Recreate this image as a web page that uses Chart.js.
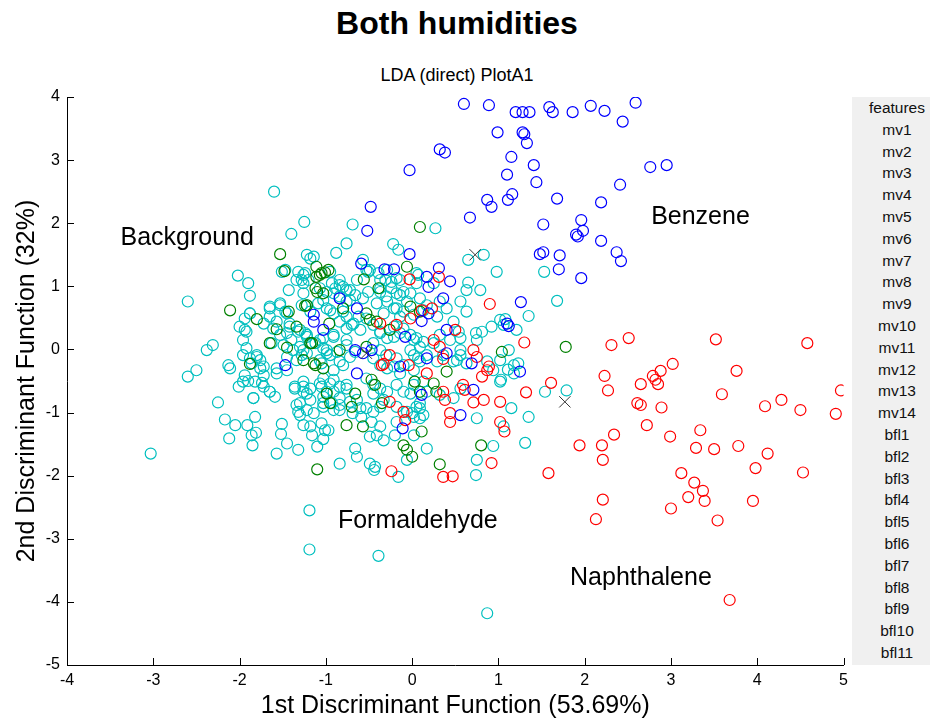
<!DOCTYPE html>
<html>
<head>
<meta charset="utf-8">
<title>Both humidities</title>
<script src="https://cdn.jsdelivr.net/npm/chart.js@4.4.0/dist/chart.umd.min.js"></script>
<style>
  body { margin: 0; width: 930px; height: 721px; overflow: hidden; background: #fff; font-family: "Liberation Sans", Arial, sans-serif; }
  #titulo { position: absolute; left: 0; top: 5px; width: 914px; text-align: center; font-weight: bold; font-size: 32px; color: #000; }
  #subtitulo { position: absolute; left: 0; top: 65px; width: 914px; text-align: center; font-size: 18px; color: #000; }
  #zona { position: absolute; left: 0; top: 0; width: 854px; height: 721px; }
  #lista { position: absolute; left: 852px; top: 97px; width: 90px; height: 568px; overflow: hidden; background: #f0f0f0; }
  #lista div { height: 21.8px; line-height: 21.8px; text-align: center; font-size: 15.5px; color: #111; }
</style>
</head>
<body>
<div id="titulo">Both humidities</div>
<div id="subtitulo">LDA (direct) PlotA1</div>
<div id="zona"><canvas id="grafico" width="854" height="721"></canvas></div>
<div id="lista"></div>
<script>
// Puntos de la proyeccion LDA por clase (x = 1a funcion, y = 2a funcion)
const benzenoX = [0.60, 0.89, 1.20, 1.28, 1.36, 1.59, 1.63, 1.86, 2.07, 2.23, 2.59, 2.44, 0.99, 1.28, 1.30, 1.33, 0.32, 0.38, 1.15, 1.41,
  2.76, 2.95, -0.03, 1.10, 1.44, 2.41, -0.48, 0.87, 0.92, 1.16, 1.11, 1.68, 2.19, 0.67, 1.52, 1.96, 1.98, 1.90, 1.92, 2.19,
  -0.52, -0.03, 1.48, 1.52, 1.71, 2.37, 2.42, 1.70, 1.96, -0.59, -0.32, -0.21, 0.31, 0.17, 0.44, 0.19, 0.36, -0.84, -1.14, -1.14,
  -1.03, -0.64, 0.19, 0.40, 1.10, -0.08, -0.66, -0.57, -0.14, 0.40, 0.17, 0.69, -0.64, 1.26, -1.47, 0.11, 0.56, -0.11, 0.71, 1.12,
  1.25, 0.11, -0.47];
const benzenoY = [3.89, 3.87, 3.76, 3.76, 3.76, 3.84, 3.76, 3.76, 3.86, 3.78, 3.91, 3.61, 3.44, 3.44, 3.41, 3.27, 3.17, 3.12, 3.05, 2.92,
  2.89, 2.92, 2.84, 2.77, 2.65, 2.61, 2.26, 2.37, 2.26, 2.46, 2.37, 2.39, 2.33, 2.09, 1.98, 2.05, 1.88, 1.82, 1.79, 1.72,
  1.88, 1.51, 1.51, 1.54, 1.49, 1.54, 1.40, 1.27, 1.13, 1.36, 1.27, 1.27, 1.29, 1.15, 1.08, 0.99, 0.81, 0.81, 0.55, 0.44,
  0.31, 0.65, 0.57, 0.31, 0.41, 0.20, -0.01, -0.06, -0.27, -0.06, -0.14, -0.22, -0.38, 0.75, -0.25, -0.72, -1.04, -1.25, -0.64, 0.37,
  -0.35, 0.45, -0.01];

const naftalenoX = [1.30, 2.31, 2.51, 3.52, 4.58, 3.02, 2.88, 2.79, 2.82, 2.85, 2.65, 3.76, 2.23, 2.27, 1.61, 1.32, 3.59, 4.97, 2.61, 2.65,
  2.89, 4.09, 4.28, 4.50, 4.91, 2.72, 2.34, 2.99, 3.34, 1.94, 2.20, 3.29, 3.50, 3.78, 4.12, 2.21, 3.98, 4.53, 1.58, 3.12,
  3.27, 3.37, 3.39, 3.20, 2.21, 3.95, 3.00, 2.13, 3.54, 1.02, 1.07, 3.68, 0.36, 0.47, -0.24,
  -0.33, -0.04, 0.17, 0.87, 0.81, 0.59, 0.61, 0.36, 0.38, -0.26, -0.10, -0.08, 0.44, 0.44, 0.71, 0.83, 1.02, 0.92,
  -0.03, 0.31, 0.90, 0.11, 0.23, -0.02, -0.18, -0.37, 0.50, 0.25, 0.71, 0.75, 0.89, -0.26, -0.35, 0.32, 0.36];
const naftalenoY = [0.11, 0.07, 0.18, 0.16, 0.10, -0.23, -0.34, -0.42, -0.48, -0.55, -0.55, -0.34, -0.42, -0.65, -0.53, -0.68, -0.71, -0.65, -0.85, -0.88,
  -0.92, -0.90, -0.80, -0.96, -1.02, -1.20, -1.35, -1.38, -1.28, -1.52, -1.52, -1.56, -1.58, -1.53, -1.65, -1.75, -1.88, -1.95, -1.96, -1.96,
  -2.11, -2.24, -2.40, -2.34, -2.38, -2.40, -2.52, -2.69, -2.71, -0.83, -1.30, -3.97, -2.02, -2.01, -1.93,
  -0.23, -0.25, -0.38, -0.33, -0.43, -0.56, -0.64, -0.67, -0.80, -0.83, -0.99, -1.12, -1.01, -1.15, -0.84, -0.80, -1.15, -1.80,
  1.11, 1.15, 0.72, 0.62, 0.65, 0.49, 0.39, 0.41, 0.31, 0.15, -0.01, -0.12, -0.27, -0.09, -0.25, 0.04, -0.15];

const formaldehidoX = [-1.53, -1.48, -1.11, -1.01, -1.11, 0.09, -0.06, -0.56, -1.05, -0.97, -1.12, -1.03, -2.11, -1.80, -1.43, -1.24, -1.57, -1.34, -1.65, -1.45,
  -1.18, -1.88, -1.26, -1.12, -1.03, -1.07, -1.10, -1.22, -0.80, -0.53, -0.49, -0.41, -0.26, -0.02, -0.96, -1.16, -0.84, -0.53, -1.14, 1.04,
  -0.99, -0.95, -0.70, -0.66, -0.47, -0.43, -0.35, 0.03, 0.09, 0.25, 0.28, -0.76, -0.57, 0.11, -0.10, -0.06, 0.00, 0.80, 0.32, -1.10,
  1.78, -0.39, 0.09, 0.40];
const formaldehidoY = [1.51, 1.24, 1.31, 1.22, 1.15, 1.94, 1.31, 1.11, 1.21, 1.26, 0.97, 0.89, 0.62, 0.48, 0.60, 0.69, 0.32, 0.36, 0.10, 0.03,
  0.10, -0.23, -0.17, -0.25, -0.30, 1.18, 0.91, 0.70, 0.65, 0.57, 0.47, 0.44, 0.31, 0.68, 0.41, 0.10, -0.01, 0.04, -0.22, -0.04,
  -0.70, -0.85, -0.91, -0.70, -0.48, -0.56, -0.85, -0.51, -0.67, -0.54, -0.67, -1.20, -1.22, -1.30, -1.52, -1.59, -1.70, -1.52, -1.82, -1.90,
  0.04, 0.97, 0.60, -0.35];

const fondoX = [-1.60, -1.25, -0.69, -1.40, -0.76, -0.88, -1.22, -1.14, -1.18, -2.02, -1.90, -1.51, -1.34, -1.24, -1.26, -0.95, -0.64,
  0.27, -0.22, -0.16, -0.57, -0.51, 0.65, 0.83, 0.98, 0.65, 1.53, -0.31, -0.24, 0.07, 0.25,
  1.68, 1.35, 1.08, 1.23, 1.11, 1.18, 1.54, 1.79, 1.15, 1.35, 1.06, 1.31, 1.03,
  -1.26, -0.93, -0.49, -0.37, -0.14, -0.84, -0.76, -0.91, -0.51, -0.37, -0.30, -0.18, -0.10, 0.05, -0.02, -1.26, -1.28, -1.03, -0.95, -0.72,
  -0.76, -0.62, -0.70, -0.41, -0.33, -0.18, -0.14, -0.37, -0.21, -0.14, 0.02, 0.09, -0.02, 0.29, 0.48, 0.54, 0.63, 0.79, 0.92, 1.02,
  1.06, 0.74, 0.81, 0.75, 1.21, 1.12, 1.02, 1.18, -1.24, -1.18, -1.26, -1.07, -0.99, -0.91, -0.76, -0.72, -0.45, -0.37, -0.30, -0.21,
  -0.14, 0.02, -1.07, -0.91, -0.80, 0.56, 0.52, 0.63, 0.87, 0.94, 0.13, 0.07,
  -1.88, -1.47, -1.43, -2.60, -1.65, -1.53, -1.47, -1.88, -1.94, -1.96, -1.92, -1.72, -1.65, -1.57, -1.45, -1.42, -1.30, -1.40, -1.30, -1.22,
  -1.45, -1.34, -1.22, -2.38, -2.31, -2.50, -2.60, -2.13, -2.11, -1.80, -1.76, -1.72, -1.94, -1.72, -1.57, -0.99, -1.05,
  -2.01, -1.90, -1.74, -1.65, -1.59, -1.84, -2.25, -1.36, -1.26, -1.22, -1.18, -1.30, -1.32, -1.05, -1.03, -2.17, -2.05, -1.91, -1.82, -1.86,
  -1.81, -1.85, -2.12, -1.51, -1.52, -1.45, -1.57, -1.32, -1.26, -1.18, -1.16, -1.10, -1.03, -1.01, -3.03,
  -1.07, -0.91, -0.84, -0.76, -0.93, -1.03, -0.84, -1.14, -1.05, -0.97, -0.64, -0.53, -0.45, -0.33, -0.69, -0.59, -0.47, -0.37, -0.49, -0.41,
  -0.33, -0.18, -0.20, 0.00, 0.05, 0.09, 0.02, -0.06, 0.17, -0.66, -0.64, -0.84, -0.49, -0.43, -0.16, 0.75, 1.02, 0.94, 0.75, 0.74,
  0.09, -0.02, -0.44, -1.19, -1.19, -0.39, 0.87,
  // nucleo denso
  -1.32, -1.20, -1.28, -0.84, -0.53, -0.39, -0.29, -0.18, 0.05, -1.07, -0.99, -0.89, -0.80, -0.72, -0.84, -0.76, -0.66, -0.57, -0.37, -0.24,
  -0.14, -0.06, -0.29, -0.21, -0.10, 0.02, -1.65, -1.53, -1.45, -1.88, -1.94, -1.22, -1.18, -1.09, -0.99, -0.91, -0.80, 0.09, 0.17, 0.32,
  0.40, 0.56, 0.63, -2.00, -1.92, -1.61, -1.53, -1.42, -1.32, -1.63, -1.49, -1.22, -1.12, -1.03, -0.91, -0.84, -0.76, -0.68, -0.60, -0.53,
  -0.45, -0.37, -0.29, -0.21, -0.10, -0.02, 0.05, 0.13, 0.25, 0.32, 0.44, 0.56, -1.96, -1.88, -1.80, -1.76, -1.86, -1.57, -1.45, -1.38,
  -1.28, -1.03, -0.95, -0.87, -0.84, -0.76, -0.66, -0.45, -0.37, -0.29, -0.18, -0.10, 0.02, 0.09, 0.17, 0.29, 0.36, 0.48, 0.56, -1.96,
  -1.82, -1.72, -1.65, -1.84, -1.36, -1.26, -1.26, -1.18, -1.03, -0.95, -0.99, -0.91, -0.84, -0.76, -0.72, -0.53, -0.45, -0.37, -0.29, -0.18,
  -0.10, 0.02, 0.13, 0.17, 0.32, 0.48, 0.56, -1.34, -1.22, -1.30, -1.03, -0.91, -0.84, -0.60, -0.45, -0.37, -0.18, -0.06, 0.09, 0.02,
  0.13];
const fondoY = [2.50, 2.02, 1.98, 1.83, 1.68, 1.53, 1.50, 1.47, 1.44, 1.17, 1.05, 1.23, 1.10, 1.21, 1.05, 1.23, 1.10,
  1.92, 1.67, 1.58, 1.42, 1.23, 1.42, 1.50, 1.23, 1.06, 1.23, 1.10, 1.07, 1.18, 1.05,
  0.77, 0.53, 0.48, -0.22, -0.32, -0.38, -0.67, -0.65, -0.93, -1.07, -1.22, -1.48, -0.48,
  1.18, 1.05, 1.26, 1.10, 1.10, 1.02, 0.94, 0.89, 0.91, 0.97, 0.84, 0.89, 0.91, 1.05, 0.89, 0.89, 0.70, 0.78, 0.62, 0.78,
  0.52, 0.52, 0.39, 0.73, 0.57, 0.65, 0.52, 0.28, 0.20, 0.26, 0.15, 0.04, -0.01, 0.52, 0.44, 0.28, 0.94, 0.94, 0.36, 0.47,
  0.39, 0.26, 0.28, 0.15, 0.31, -0.01, -0.17, -0.25, 0.26, 0.10, -0.01, 0.15, -0.01, 0.20, 0.15, -0.12, 0.10, -0.01, -0.09, -0.27,
  -0.38, -0.33, -0.17, -0.33, -0.25, -0.01, -0.17, -0.22, -0.19, -0.33, 0.62, -0.14,
  0.85, 1.26, 0.94, 0.76, 0.68, 0.73, 0.60, 0.57, 0.31, 0.15, 0.02, 0.41, 0.52, 0.44, 0.26, 0.41, 0.31, 0.15, 0.04, 0.20,
  -0.12, -0.17, -0.06, -0.01, 0.07, -0.33, -0.43, -0.25, -0.30, -0.12, -0.17, -0.27, -0.41, -0.41, -0.38, -0.06, -0.22,
  -0.59, -0.50, -0.53, -0.67, -0.75, -0.77, -0.84, -0.62, -0.59, -0.70, -0.80, -0.85, -0.99, -0.59, -0.85, -1.11, -1.20, -1.20, -1.07, -1.36,
  -1.32, -1.52, -1.41, -1.18, -1.34, -1.49, -1.65, -1.59, -1.20, -1.22, -1.36, -1.54, -1.42, -1.28, -1.65,
  -0.54, -0.48, -0.59, -0.56, -0.85, -0.75, -0.96, -1.01, -1.17, -1.28, -0.80, -0.93, -0.70, -0.80, -1.01, -1.07, -1.15, -1.22, -1.38, -1.36,
  -1.44, -1.15, -1.36, -1.01, -0.91, -1.09, -1.36, -1.75, -1.57, -1.57, -1.70, -1.81, -1.81, -1.86, -2.02, -1.09, -0.51, -1.53, -1.75, -1.99,
  -0.85, -0.70, -1.91, -2.55, -3.17, -3.27, -4.18,
  // nucleo denso
  1.23, 1.10, 1.10, 1.10, 1.26, 1.21, 1.26, 1.13, 1.21, 0.97, 0.91, 0.97, 0.99, 0.94, 0.84, 0.76, 0.86, 0.81, 0.91, 0.97,
  0.86, 0.76, 0.76, 0.65, 0.60, 0.55, 0.65, 0.70, 0.57, 0.57, 0.49, 0.70, 0.60, 0.73, 0.65, 0.57, 0.60, 0.81, 0.70, 0.76,
  0.65, 0.76, 0.60, 0.36, 0.28, 0.33, 0.23, 0.36, 0.28, 0.10, 0.07, 0.23, 0.10, 0.18, 0.23, 0.44, 0.33, 0.41, 0.31, 0.49,
  0.39, 0.26, 0.18, 0.36, 0.33, 0.23, 0.18, 0.12, 0.10, 0.23, 0.15, 0.18, -0.09, -0.14, -0.09, -0.30, -0.22, -0.30, -0.33, -0.01,
  -0.09, 0.02, -0.09, -0.04, -0.19, 0.07, -0.04, -0.14, -0.25, -0.30, -0.14, -0.25, -0.09, -0.19, -0.09, -0.19, -0.09, -0.19, -0.09, -0.51,
  -0.51, -0.59, -0.67, -0.77, -0.59, -0.51, -0.67, -0.62, -0.46, -0.54, -0.67, -0.67, -0.77, -0.62, -0.83, -0.46, -0.56, -0.62, -0.67, -0.56,
  -0.67, -0.56, -0.51, -0.67, -0.72, -0.77, -0.62, -0.88, -0.96, -1.04, -0.91, -0.96, -0.88, -0.93, -0.99, -0.91, -0.91, -0.99, -0.93, -1.07,
  -1.04];

// Centroides marcados con X
const centroX = [0.73, 1.77, -0.53];
const centroY = [1.50, -0.83, -0.06];

// Rotulos de cada clase
const rotulos = ['Background', 'Benzene', 'Formaldehyde', 'Naphthalene'];
const rotuloX = [-3.38, 2.77, -0.86, 1.83];
const rotuloY = [1.77, 2.10, -2.72, -3.62];

const ticksX = [-4, -3, -2, -1, 0, 1, 2, 3, 4, 5];
const ticksY = [-5, -4, -3, -2, -1, 0, 1, 2, 3, 4];

const variables = ['features'];
for (let i = 1; i <= 14; i++) variables.push('mv' + i);
for (let i = 1; i <= 12; i++) variables.push('bfl' + i);

const lista = document.getElementById('lista');
variables.forEach(v => {
    const d = document.createElement('div');
    d.textContent = v;
    lista.appendChild(d);
});

function puntos(xs, ys) {
    return xs.map((x, i) => ({ x: x, y: ys[i] }));
}

function serie(nombre, xs, ys, color, orden) {
    return {
        label: nombre,
        data: puntos(xs, ys),
        borderColor: color,
        backgroundColor: 'rgba(0,0,0,0)',
        pointStyle: 'circle',
        pointRadius: 5.5,
        pointBorderWidth: 1.2,
        pointHoverRadius: 5.5,
        order: orden
    };
}

const FUENTE = '"Liberation Sans", Arial, sans-serif';

// marcas hacia dentro en los ejes y rotulos de clase
const marcasInternas = {
    id: 'marcasInternas',
    afterDraw(chart) {
        const ctx = chart.ctx;
        const area = chart.chartArea;
        const sx = chart.scales.x;
        const sy = chart.scales.y;
        ctx.save();
        ctx.strokeStyle = '#000';
        ctx.lineWidth = 1;
        ctx.beginPath();
        ticksX.forEach(v => {
            const px = Math.round(sx.getPixelForValue(v)) + 0.5;
            ctx.moveTo(px, area.bottom);
            ctx.lineTo(px, area.bottom - 7);
        });
        ticksY.forEach(v => {
            const py = Math.round(sy.getPixelForValue(v)) + 0.5;
            ctx.moveTo(area.left, py);
            ctx.lineTo(area.left + 7, py);
        });
        ctx.stroke();

        ctx.fillStyle = '#000';
        ctx.font = '25px ' + FUENTE;
        ctx.textAlign = 'left';
        ctx.textBaseline = 'middle';
        rotulos.forEach((t, i) => {
            ctx.fillText(t, sx.getPixelForValue(rotuloX[i]), sy.getPixelForValue(rotuloY[i]));
        });
        ctx.restore();
    }
};

new Chart(document.getElementById('grafico'), {
    type: 'scatter',
    data: {
        datasets: [
            serie('Background', fondoX, fondoY, '#00bfbf', 4),
            serie('Formaldehyde', formaldehidoX, formaldehidoY, '#008000', 3),
            serie('Naphthalene', naftalenoX, naftalenoY, '#ff0000', 2),
            serie('Benzene', benzenoX, benzenoY, '#0000ff', 1),
            {
                label: 'centroides',
                data: puntos(centroX, centroY),
                borderColor: '#333',
                backgroundColor: '#333',
                pointStyle: 'crossRot',
                pointRadius: 8,
                pointBorderWidth: 1,
                order: 0
            }
        ]
    },
    options: {
        responsive: false,
        animation: false,
        devicePixelRatio: 1,
        // el margen derecho lo fija la mitad de la etiqueta "5" mas su separacion
        layout: { padding: { top: 97, right: 0, left: 0, bottom: 0 } },
        plugins: {
            legend: { display: false },
            tooltip: { enabled: false }
        },
        scales: {
            x: {
                type: 'linear',
                min: -4,
                max: 5,
                afterFit: s => { s.height = 56; },
                afterBuildTicks: s => { s.ticks = ticksX.map(v => ({ value: v })); },
                ticks: { color: '#000', font: { size: 16, family: FUENTE }, padding: 6, maxRotation: 0 },
                grid: { drawOnChartArea: false, drawTicks: false },
                border: { color: '#000', width: 1 },
                title: {
                    display: true,
                    text: '1st Discriminant Function (53.69%)',
                    color: '#000',
                    font: { size: 25, family: FUENTE },
                    padding: { top: 0, bottom: 0 }
                }
            },
            y: {
                type: 'linear',
                min: -5,
                max: 4,
                afterFit: s => { s.width = 67; },
                afterBuildTicks: s => { s.ticks = ticksY.map(v => ({ value: v })); },
                ticks: { color: '#000', font: { size: 16, family: FUENTE }, padding: 7 },
                grid: { drawOnChartArea: false, drawTicks: false },
                border: { color: '#000', width: 1 },
                title: {
                    display: true,
                    text: '2nd Discriminant Function (32%)',
                    color: '#000',
                    font: { size: 25, family: FUENTE },
                    padding: { top: 12, bottom: 0 }
                }
            }
        }
    },
    plugins: [marcasInternas]
});
</script>
</body>
</html>
